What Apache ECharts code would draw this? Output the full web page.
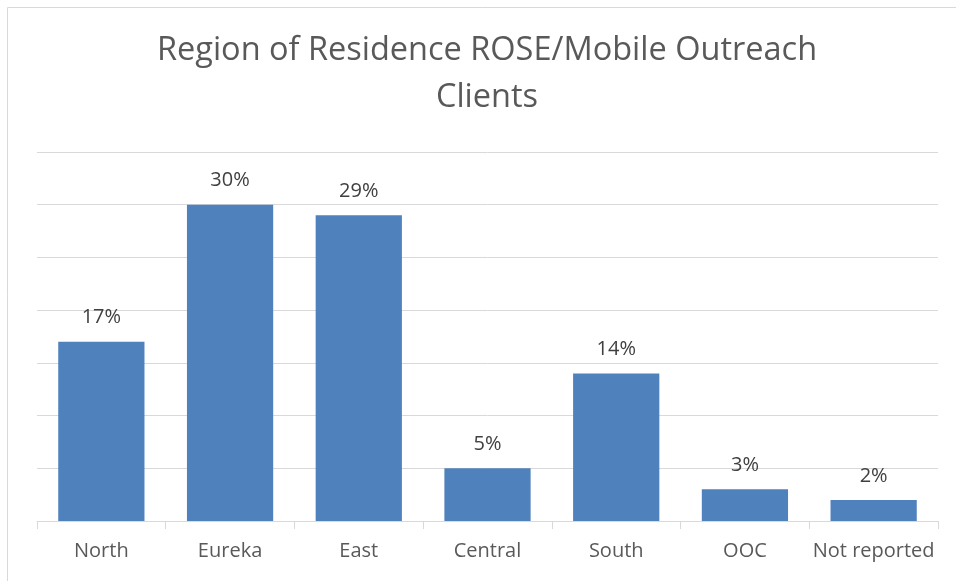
<!DOCTYPE html>
<html><head><meta charset="utf-8">
<script src="https://cdn.jsdelivr.net/npm/echarts@6/dist/echarts.min.js"></script>
<style>html,body{margin:0;padding:0;background:#fff}#c{width:956px;height:581px}</style>
</head><body><div id="c"></div>
<script>
const categories = ["North","Eureka","East","Central","South","OOC","Not reported"];
const values = [17,30,29,5,14,3,2];
const titleText = "Region of Residence ROSE/Mobile Outreach\nClients";

const chart = echarts.init(document.getElementById('c'));
chart.setOption({
  animation:false,
  graphic:[
    {type:'rect',shape:{x:7.5,y:7.5,width:960,height:600},style:{fill:null,stroke:'#d9d9d9',lineWidth:1},silent:true},
    {type:'text',x:487,y:27,style:{text:titleText,align:'center',verticalAlign:'top',fontFamily:'Open Sans',fontSize:32.5,fill:'#595959',lineHeight:47}}
  ],
  grid:{left:37,right:18,top:152,bottom:60,containLabel:false},
  xAxis:{type:'category',data:categories,
    axisLine:{lineStyle:{color:'#d9d9d9',width:1}},
    axisTick:{show:true,length:8,lineStyle:{color:'#d9d9d9'}},
    axisLabel:{color:'#595959',fontSize:20,fontFamily:'Open Sans',margin:20,interval:0}},
  yAxis:{type:'value',min:0,max:35,interval:5,show:true,
    axisLine:{show:false},axisTick:{show:false},axisLabel:{show:false},
    splitLine:{lineStyle:{color:'#d9d9d9',width:1}}},
  series:[{type:'bar',data:values,barCategoryGap:'33%',
    itemStyle:{color:'#4f81bd'},
    label:{show:true,position:'top',distance:14,formatter:'{c}%',color:'#404040',fontSize:20,fontFamily:'Open Sans'}}]
});
</script></body></html>
